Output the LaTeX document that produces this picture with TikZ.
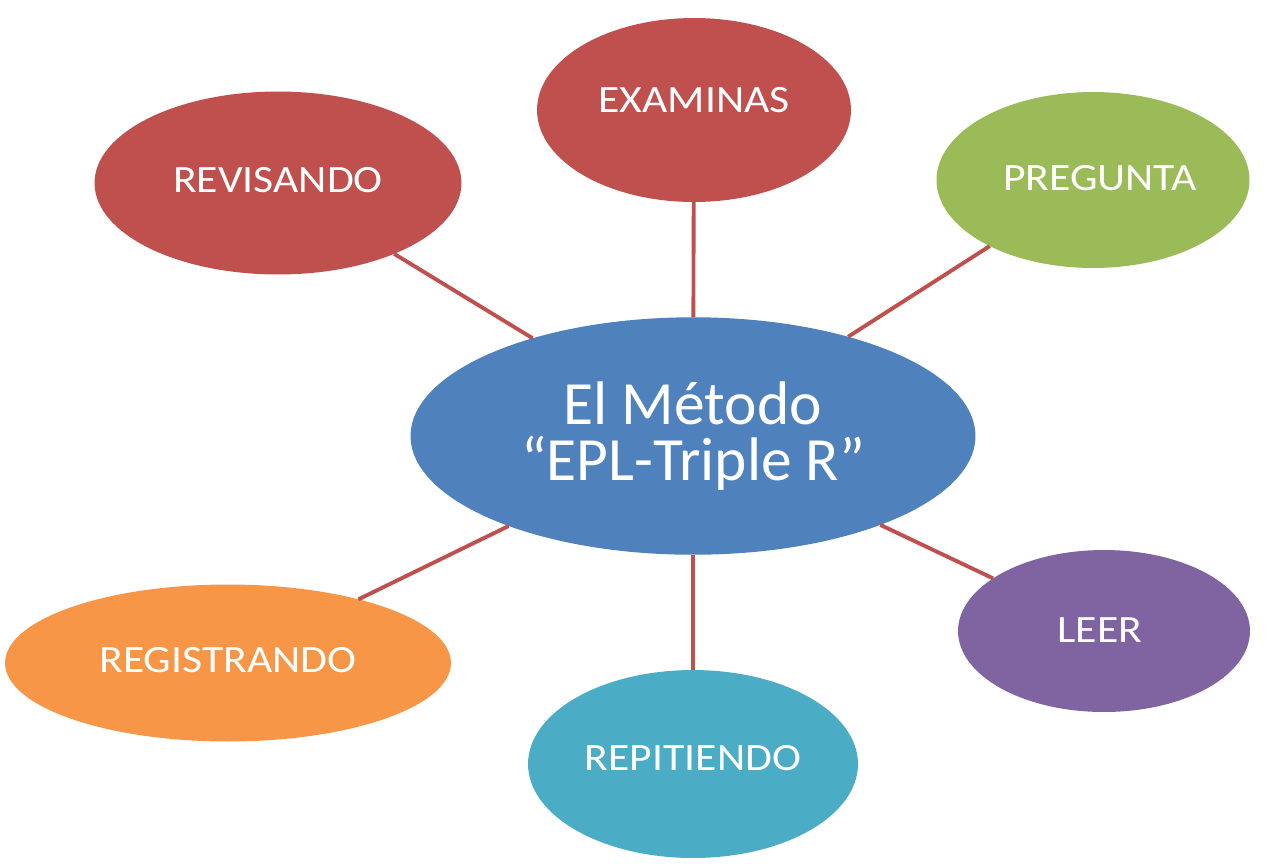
\documentclass[tikz,border=0pt]{standalone}
\usepackage{fontspec}
\setmainfont{Carlito}
\newfontfamily\lblfont[FakeStretch=1.13]{Carlito}
\usetikzlibrary{shapes.geometric}
\definecolor{ored}{HTML}{C0504D}
\definecolor{oblue}{HTML}{4F81BD}
\definecolor{ogreen}{HTML}{9BBB59}
\definecolor{opurple}{HTML}{8064A2}
\definecolor{oaqua}{HTML}{4BACC6}
\definecolor{oorange}{HTML}{F79646}
\begin{document}
\begin{tikzpicture}[x=0.02cm,y=-0.02cm,
  bubble/.style={ellipse,inner sep=0pt,outer sep=0pt,text=white,font=\lblfont\fontsize{22}{26}\selectfont},
  link/.style={draw=ored,line width=2.2pt}]
\useasboundingbox (0,0) rectangle (1270,863);
\node[bubble,fill=oblue,minimum width=11.3cm,minimum height=4.75cm,align=center,font=\fontsize{35}{32}\selectfont] (c) at (693,436) {El Método\\“EPL-Triple R”};
\node[bubble,fill=ored,minimum width=6.28cm,minimum height=3.68cm] (ex) at (694,110) {};
\node[bubble,fill=ored,minimum width=7.34cm,minimum height=3.66cm] (rv) at (278,183) {};
\node[bubble,fill=ogreen,minimum width=6.26cm,minimum height=3.52cm] (pr) at (1093,180) {};
\node[bubble,fill=opurple,minimum width=5.84cm,minimum height=3.24cm] (le) at (1104,631) {};
\node[bubble,fill=oaqua,minimum width=6.6cm,minimum height=3.76cm] (rp) at (693,764) {};
\node[bubble,fill=oorange,minimum width=8.92cm,minimum height=3.14cm] (rg) at (228,663) {};
\node[bubble] (tex) at (694,100) {EXAMINAS};
\node[bubble] (trv) at (278,180) {REVISANDO};
\node[bubble] (tpr) at (1100,178) {PREGUNTA};
\node[bubble] (tle) at (1100,630) {LEER};
\node[bubble] (trp) at (693,758) {REPITIENDO};
\node[bubble] (trg) at (228,660) {REGISTRANDO};
\draw[link] (ex) -- (c);
\draw[link] (rv) -- (c);
\draw[link] (pr) -- (c);
\draw[link] (le) -- (c);
\draw[link] (rp) -- (c);
\draw[link] (rg) -- (c);
\end{tikzpicture}
\end{document}
